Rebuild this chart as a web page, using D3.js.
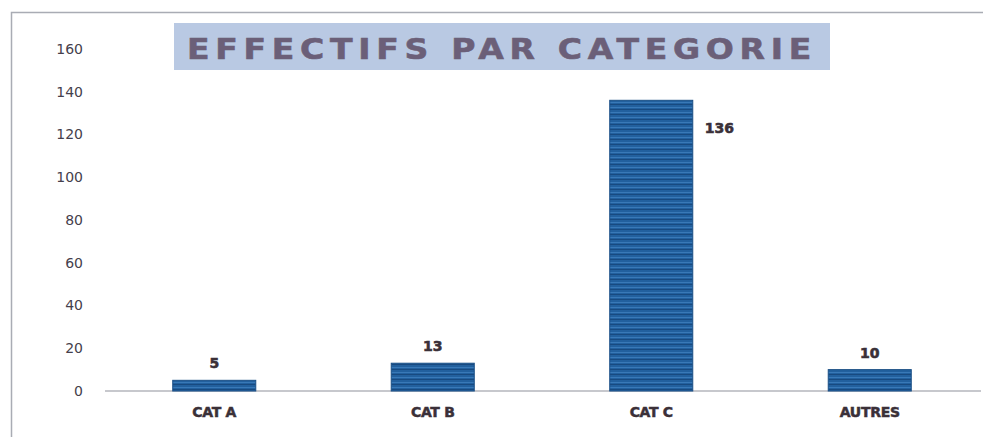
<!DOCTYPE html>
<html>
<head>
<meta charset="utf-8">
<script src="https://cdn.jsdelivr.net/npm/d3@7"></script>
<style>
  body { margin: 0; background: #fff; }
  svg { display: block; }
</style>
</head>
<body>
<svg id="canvas" width="983" height="437"></svg>
<script>
let categories = ['CAT A', 'CAT B', 'CAT C', 'AUTRES']
let values = [5, 13, 136, 10]
let yTicks = [0, 20, 40, 60, 80, 100, 120, 140, 160]
let title = 'EFFECTIFS PAR CATEGORIE'

let canvas = d3.select('#canvas')

// frame (left + top border like the scanned sheet)
canvas.append('path')
    .attr('d', 'M11.5,437 V12.5 H983')
    .attr('fill', 'none')
    .attr('stroke', '#a9acb4')
    .attr('stroke-width', 1.5)

let x = d3.scaleBand()
    .domain(categories)
    .range([105, 979])
    .paddingInner(0.62)
    .paddingOuter(0.31)

let y = d3.scaleLinear()
    .domain([0, 160])
    .range([391, 49])

// y tick labels (no axis line)
let yAxis = d3.axisLeft(y).tickValues(yTicks).tickSize(0).tickPadding(0)
let gy = canvas.append('g')
    .attr('transform', 'translate(83,0)')
    .call(yAxis)
gy.select('.domain').remove()
gy.selectAll('text')
    .attr('font-family', 'DejaVu Sans, sans-serif')
    .attr('font-size', 14)
    .attr('fill', '#45404c')

// baseline
canvas.append('line')
    .attr('x1', 105).attr('x2', 981)
    .attr('y1', y(0)).attr('y2', y(0))
    .attr('stroke', '#b4b6bd')
    .attr('stroke-width', 1.5)

// striped fill for bars
let defs = canvas.append('defs')
let pat = defs.append('pattern')
    .attr('id', 'stripes')
    .attr('patternUnits', 'userSpaceOnUse')
    .attr('width', 8).attr('height', 5)
pat.append('rect').attr('width', 8).attr('height', 5).attr('fill', '#22609e')
pat.append('rect').attr('y', 2).attr('width', 8).attr('height', 1).attr('fill', '#3f7fbd').attr('opacity', 0.8)
pat.append('rect').attr('y', 4).attr('width', 8).attr('height', 1).attr('fill', '#184a80')

canvas.selectAll('.bar')
    .data(values)
    .enter()
    .append('rect')
    .attr('class', 'bar')
    .attr('x', (d, i) => x(categories[i]))
    .attr('y', (d) => y(d))
    .attr('width', x.bandwidth())
    .attr('height', (d) => y(0) - y(d))
    .attr('fill', 'url(#stripes)')
    .attr('stroke', '#1a4f86')
    .attr('stroke-width', 1)

// value labels
canvas.selectAll('.val')
    .data(values)
    .enter()
    .append('text')
    .attr('class', 'val')
    .attr('x', (d, i) => d > 100 ? x(categories[i]) + x.bandwidth() + 12 : x(categories[i]) + x.bandwidth() / 2)
    .attr('y', (d) => d > 100 ? y(d) + 33 : y(d) - 12)
    .attr('text-anchor', (d) => d > 100 ? 'start' : 'middle')
    .attr('font-family', 'DejaVu Sans, sans-serif')
    .attr('font-weight', 'bold')
    .attr('font-size', 14)
    .attr('stroke', '#3a3038')
    .attr('stroke-width', 0.6)
    .attr('fill', '#3a3038')
    .text((d) => d)

// category labels
canvas.selectAll('.cat')
    .data(categories)
    .enter()
    .append('text')
    .attr('class', 'cat')
    .attr('x', (d) => x(d) + x.bandwidth() / 2)
    .attr('y', 417)
    .attr('text-anchor', 'middle')
    .attr('font-family', 'DejaVu Sans, sans-serif')
    .attr('font-weight', 'bold')
    .attr('font-size', 14)
    .attr('letter-spacing', -0.3)
    .attr('stroke', '#3a3038')
    .attr('stroke-width', 0.5)
    .attr('fill', '#3a3038')
    .text((d) => d)

// title
canvas.append('rect')
    .attr('x', 174).attr('y', 23)
    .attr('width', 656).attr('height', 47)
    .attr('fill', '#b9c9e3')
canvas.append('text')
    .attr('x', 502).attr('y', 59)
    .attr('text-anchor', 'middle')
    .attr('font-family', 'DejaVu Sans, sans-serif')
    .attr('font-weight', 'bold')
    .attr('font-size', 29)
    .attr('letter-spacing', 5)
    .attr('textLength', 630)
    .attr('lengthAdjust', 'spacingAndGlyphs')
    .attr('stroke', '#6b5f78')
    .attr('stroke-width', 0.6)
    .attr('fill', '#6b5f78')
    .text(title)
</script>
</body>
</html>
